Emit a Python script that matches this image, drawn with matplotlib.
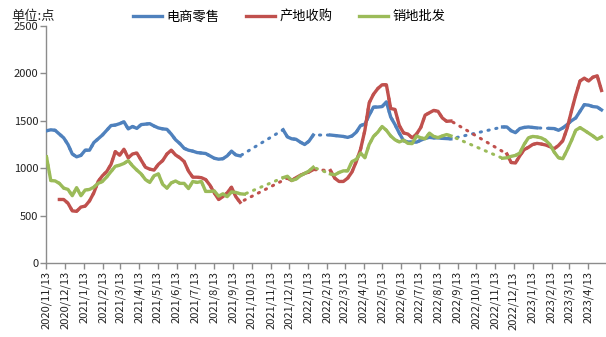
import numpy as np
import pandas as pd
import matplotlib
matplotlib.use('Agg')
import matplotlib.pyplot as plt
import matplotlib.dates as mdates
from matplotlib.ticker import FuncFormatter

plt.rcParams['font.family'] = ['Noto Sans CJK SC', 'DejaVu Sans']

# 周度数据, 从 2020/11/13 开始
start_date = '2020-11-13'
n_weeks = 130
N = None

retail = [1395, 1405, 1400, 1360, 1320, 1250, 1150, 1120, 1135, 1190,
          1190, 1270, 1310, 1350, 1400, 1450, 1455, 1470, 1490, 1415,
          1440, 1420, 1460, 1465, 1470, 1445, 1425, 1415, 1410, 1360,
          1300, 1260, 1210, 1190, 1180, 1165, 1160, 1155, 1130, 1105,
          1095, 1100, 1130, 1180, 1140, 1130, N, N, N, N,
          N, N, N, N, N, 1405, 1330, 1310, 1305, 1275,
          1250, 1285, 1350, N, N, N, 1350, 1345, 1340, 1335,
          1325, 1340, 1380, 1450, 1465, 1560, 1645, 1645, 1650, 1700,
          1540, 1460, 1370, 1290, 1277, 1275, 1275, 1295, 1315, 1325,
          1320, 1320, 1315, 1312, 1310, N, N, N, N, N,
          N, N, N, N, N, N, 1435, 1435, 1395, 1375,
          1418, 1430, 1435, 1430, 1425, N, N, 1420, 1418, 1400,
          1425, 1460, 1500, 1530, 1600, 1670, 1665, 1650, 1645, 1615]

origin = [N, N, N, 670, 670, 630, 550, 545, 590, 600,
          655, 740, 860, 920, 965, 1040, 1175, 1137, 1200, 1110,
          1150, 1160, 1085, 1010, 990, 980, 1040, 1080, 1150, 1190,
          1140, 1110, 1070, 970, 905, 905, 900, 880, 820, 740,
          670, 700, 740, 800, 700, 640, N, N, N, N,
          N, N, N, N, N, N, 895, 870, 900, 925,
          945, 960, 985, N, N, N, 975, 895, 860, 860,
          895, 960, 1070, 1200, 1400, 1690, 1780, 1840, 1880, 1880,
          1630, 1620, 1450, 1372, 1360, 1320, 1360, 1430, 1560, 1585,
          1610, 1600, 1530, 1495, 1498, N, N, N, N, N,
          N, N, N, N, N, N, N, 1150, 1060, 1055,
          1130, 1195, 1220, 1250, 1262, 1255, 1245, 1228, 1205, 1240,
          1290, 1420, 1600, 1770, 1920, 1950, 1920, 1960, 1975, 1820]

wholesale = [1120, 870, 866, 840, 790, 776, 710, 795, 710, 770,
             776, 800, 840, 860, 908, 965, 1020, 1032, 1050, 1080,
             1025, 980, 940, 880, 850, 920, 940, 830, 790, 845,
             865, 840, 840, 785, 860, 850, 860, 755, 755, 760,
             705, 730, 700, 750, 745, 730, 726, N, N, N,
             N, N, N, N, N, 900, 915, 870, 885, 920,
             945, 970, 1010, N, N, N, 940, 930, 955, 972,
             972, 1070, 1092, 1160, 1110, 1250, 1335, 1380, 1440, 1400,
             1340, 1300, 1277, 1295, 1262, 1260, 1340, 1320, 1310, 1370,
             1335, 1323, 1340, 1355, 1340, N, N, N, N, N,
             N, N, N, N, N, N, 1105, 1110, 1125, 1135,
             1160, 1250, 1320, 1335, 1330, 1320, 1295, 1250, 1170, 1110,
             1100, 1190, 1290, 1400, 1428, 1400, 1370, 1340, 1305, 1330]

series_names = ['电商零售', '产地收购', '销地批发']
colors = ['#4F81BD', '#C0504D', '#9BBB59']

dates = pd.date_range(start_date, periods=n_weeks, freq='7D')

fig = plt.figure(figsize=(6.06, 3.37), dpi=100)
ax = fig.add_axes([0.0767, 0.2196, 0.922, 0.7032])

handles = []
for vals, name, c in zip([retail, origin, wholesale], series_names, colors):
    y = np.array([np.nan if v is None else v for v in vals], dtype=float)
    ok = ~np.isnan(y)
    # 缺失段用点线连接
    ax.plot(dates[ok], y[ok], color=c, lw=2.2, linestyle=(0, (0.4, 2.2)),
            dash_capstyle='round', zorder=2)
    h, = ax.plot(dates, y, color=c, lw=2.4, solid_joinstyle='round', zorder=3, label=name)
    handles.append(h)

ax.set_ylim(0, 2500)
ax.set_yticks([0, 500, 1000, 1500, 2000, 2500])
ax.set_xlim(pd.Timestamp('2020-11-13'), pd.Timestamp('2023-05-11'))
ax.xaxis.set_major_locator(mdates.MonthLocator(bymonthday=13))
ax.xaxis.set_major_formatter(FuncFormatter(
    lambda v, p: (lambda d: f'{d.year}/{d.month}/{d.day}')(mdates.num2date(v))))

for s in ['top', 'right']:
    ax.spines[s].set_visible(False)
for s in ['left', 'bottom']:
    ax.spines[s].set_color('#8c8c8c')
    ax.spines[s].set_linewidth(1.0)
ax.tick_params(axis='both', colors='#8c8c8c', length=4, width=1.0,
               labelcolor='#222222', labelsize=8)
ax.tick_params(axis='x', labelrotation=90, pad=2)
ax.tick_params(axis='y', pad=2)

fig.text(0.018, 0.952, '单位:点', fontsize=9.5, color='#222222', va='center', ha='left')
fig.legend(handles=handles, loc='center', bbox_to_anchor=(0.477, 0.95), ncol=3,
           frameon=False, fontsize=9.5, handlelength=2.2, handletextpad=0.35,
           columnspacing=2.0, borderpad=0)

fig.savefig('out.png', dpi=100)
